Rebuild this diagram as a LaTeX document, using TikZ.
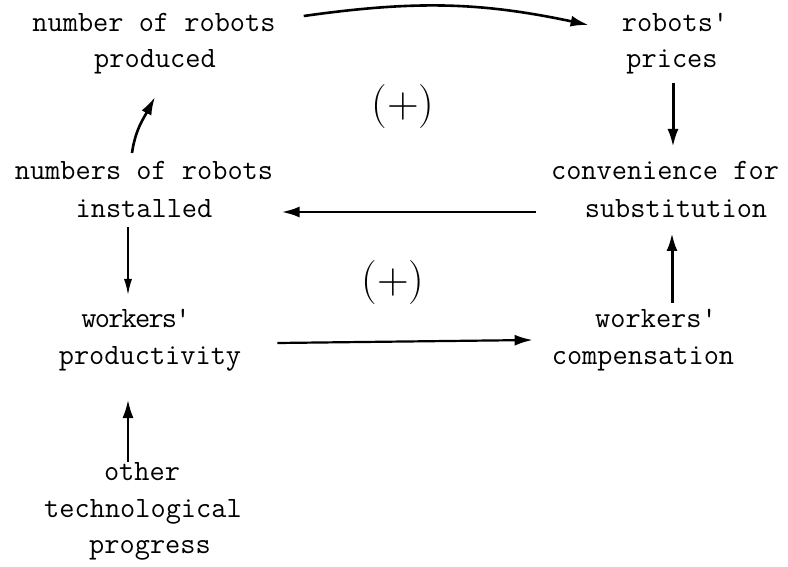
\documentclass[tikz,border=0pt]{standalone}
\usepackage{fontspec}
\newfontfamily\tw{Latin Modern Mono}
\newfontfamily\twtight[LetterSpace=-6]{Latin Modern Mono}
\usetikzlibrary{arrows.meta,calc}
\tikzset{
  lbl/.style={anchor=base, inner sep=0pt, font=\tw\fontsize{29.5}{32}\selectfont},
  tightlbl/.style={anchor=base, inner sep=0pt, font=\twtight\fontsize{29.5}{32}\selectfont},
  plus/.style={inner sep=0pt, font=\fontsize{44}{46}\selectfont},
  thick arr/.style={line width=2.6pt, -{Latex[length=18pt,width=11pt]}},
  thin arr/.style={line width=1.5pt, -{Latex[length=16pt,width=8pt]}}
}
\begin{document}
\begin{tikzpicture}[x=1pt,y=1pt]
\useasboundingbox[fill=white] (0,0) rectangle (788,566);
% text lines
\node[lbl] (n1) at (154,534) {number of robots};
\node[lbl] (n2) at (155,498) {produced};
\node[lbl] (r1) at (675,534) {robots'};
\node[lbl] (r2) at (672,498) {prices};
\node[lbl] (i1) at (144,386) {numbers of robots};
\node[lbl] (i2) at (144,348) {installed};
\node[lbl] (c1) at (665,386) {convenience for};
\node[lbl] (c2) at (676,348) {substitution};
\node[tightlbl] (w1) at (136,238) {workers'};
\node[lbl] (w2) at (150,201) {productivity};
\node[lbl] (k1) at (656,238) {workers'};
\node[lbl] (k2) at (643,201) {compensation};
\node[lbl] (o1) at (142,86) {other};
\node[lbl] (o2) at (143,49) {technological};
\node[lbl] (o3) at (150,13) {progress};
\node[plus] (p1) at (403,459) {(+)};
\node[plus] (p2) at (393,283) {(+)};
% connectors
\draw[thick arr] ($(n1.base east)+(28,16)$) to[out=8,in=168] ($(r1.base west)+(-33,7)$);
\draw[thick arr, line width=3pt] ($(r2.base)+(1,-15)$) -- ($(c1.base)+(8,33)$);
\draw[thick arr] ($(c2.base west)+(-49,6)$) -- ($(i2.base east)+(69,6)$);
\draw[thin arr] ($(i2.base)+(-16,-9)$) -- ($(w1.base)+(-8,33)$);
\draw[thick arr] ($(i1.base)+(-12,27)$) to[out=82,in=242] ($(n2.base)+(0,-29)$);
\draw[thick arr, line width=2.2pt] ($(w2.base east)+(36,22)$) -- ($(k2.base west)+(-19,25)$);
\draw[thick arr, line width=3pt] ($(k1.base)+(16,25)$) -- ($(c2.base)+(-4,-15)$);
\draw[thick arr, line width=2pt] ($(o1.base)+(-14,18)$) -- ($(w2.base)+(-22,-35)$);
\end{tikzpicture}
\end{document}
